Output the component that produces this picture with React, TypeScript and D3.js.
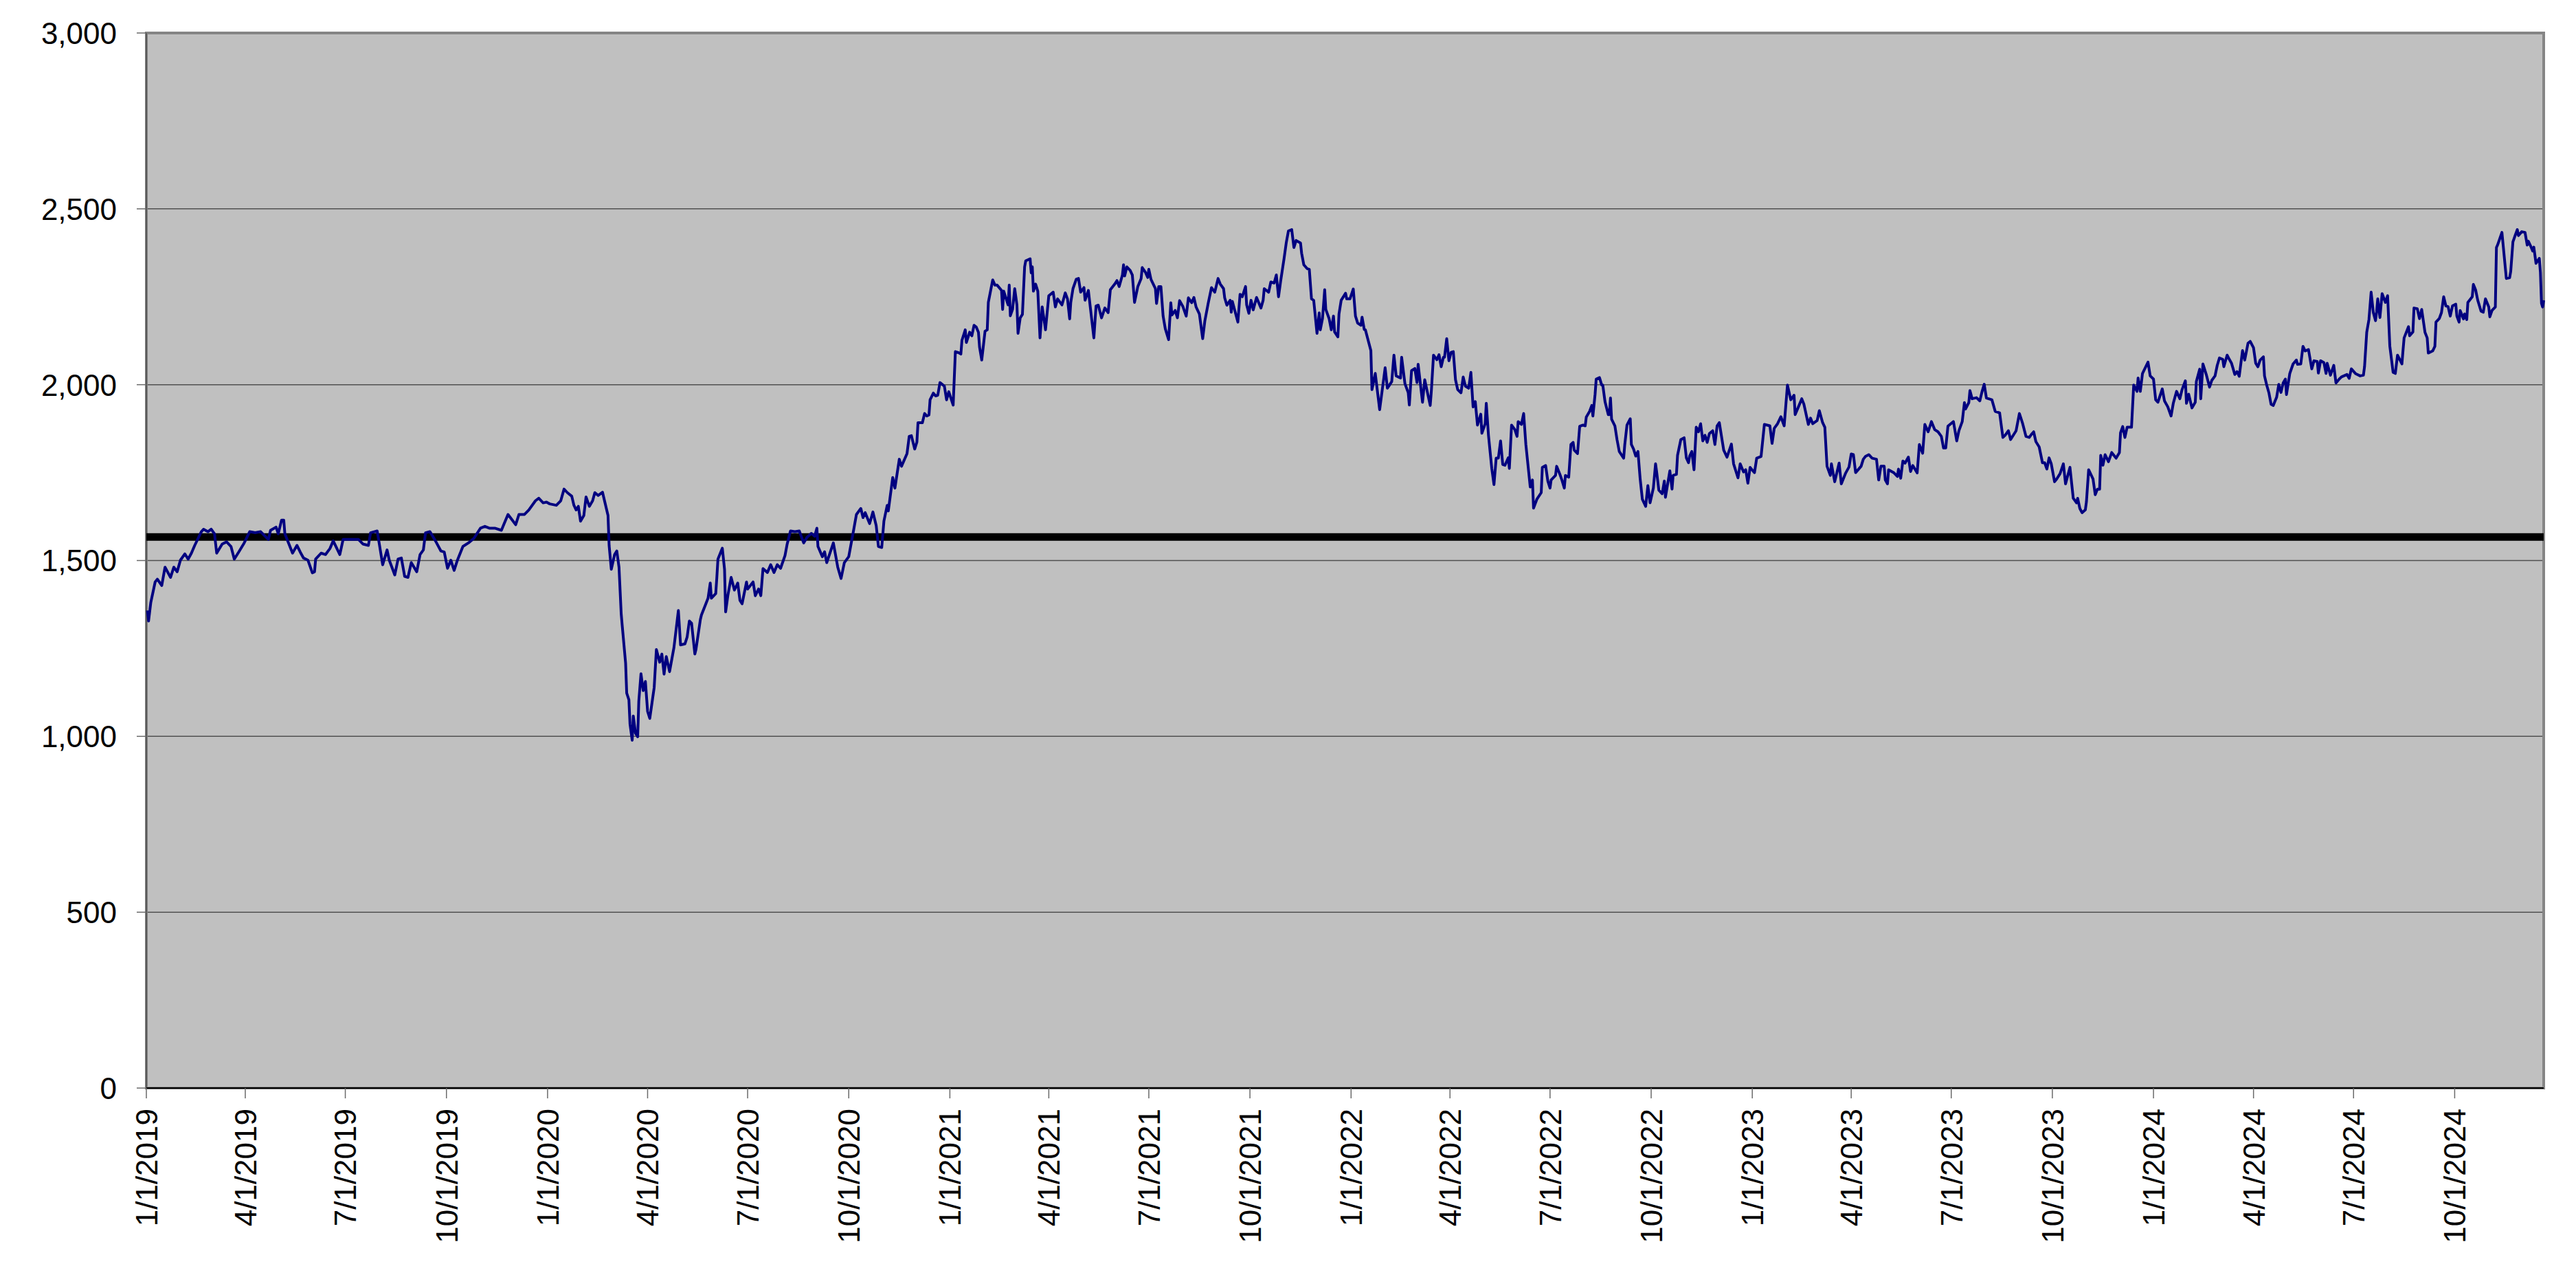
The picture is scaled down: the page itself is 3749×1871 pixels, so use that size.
import { useEffect, useRef } from 'react';
import * as d3 from 'd3';

const WIDTH = 3749;
const HEIGHT = 1871;

// daily index level
const series2019: [string, number][] = [
  ['2019-01-02', 1358], ['2019-01-03', 1328], ['2019-01-05', 1380], ['2019-01-09', 1439], ['2019-01-11', 1447],
  ['2019-01-15', 1429], ['2019-01-18', 1481], ['2019-01-23', 1452], ['2019-01-26', 1481], ['2019-01-29', 1468],
  ['2019-02-01', 1501], ['2019-02-05', 1519], ['2019-02-08', 1504], ['2019-02-11', 1521], ['2019-02-14', 1543],
  ['2019-02-20', 1582], ['2019-02-22', 1589], ['2019-02-26', 1582], ['2019-03-01', 1589], ['2019-03-04', 1576],
  ['2019-03-06', 1521], ['2019-03-11', 1547], ['2019-03-15', 1553], ['2019-03-19', 1540], ['2019-03-22', 1504],
  ['2019-03-26', 1524], ['2019-03-31', 1550], ['2019-04-05', 1582], ['2019-04-10', 1579], ['2019-04-15', 1582],
  ['2019-04-22', 1560], ['2019-04-24', 1586], ['2019-04-29', 1595], ['2019-05-01', 1576], ['2019-05-04', 1615],
  ['2019-05-06', 1615], ['2019-05-07', 1576], ['2019-05-14', 1521], ['2019-05-18', 1543], ['2019-05-21', 1524],
  ['2019-05-24', 1507], ['2019-05-28', 1501], ['2019-06-01', 1465], ['2019-06-03', 1468], ['2019-06-04', 1504],
  ['2019-06-09', 1521], ['2019-06-13', 1517], ['2019-06-17', 1534], ['2019-06-20', 1556], ['2019-06-26', 1517],
  ['2019-06-29', 1560], ['2019-07-06', 1560], ['2019-07-13', 1560], ['2019-07-17', 1547], ['2019-07-22', 1543],
  ['2019-07-24', 1579], ['2019-07-30', 1584], ['2019-08-04', 1488], ['2019-08-08', 1530], ['2019-08-10', 1501],
  ['2019-08-15', 1459], ['2019-08-18', 1504], ['2019-08-21', 1507], ['2019-08-24', 1455], ['2019-08-27', 1452],
  ['2019-08-30', 1494], ['2019-09-04', 1468], ['2019-09-07', 1517], ['2019-09-10', 1530], ['2019-09-12', 1579],
  ['2019-09-16', 1582], ['2019-09-21', 1556], ['2019-09-26', 1527], ['2019-09-29', 1524], ['2019-10-02', 1478],
  ['2019-10-05', 1501], ['2019-10-08', 1472], ['2019-10-11', 1501], ['2019-10-16', 1540], ['2019-10-21', 1550],
  ['2019-10-26', 1563], ['2019-11-01', 1592], ['2019-11-05', 1597], ['2019-11-09', 1592], ['2019-11-14', 1592],
  ['2019-11-20', 1586], ['2019-11-26', 1631], ['2019-12-03', 1602], ['2019-12-06', 1631], ['2019-12-11', 1631],
  ['2019-12-15', 1644], ['2019-12-21', 1670], ['2019-12-24', 1677], ['2019-12-28', 1664], ['2019-12-31', 1666],
];

const series2020: [string, number][] = [
  ['2020-01-03', 1661], ['2020-01-09', 1657], ['2020-01-13', 1670], ['2020-01-16', 1703], ['2020-01-19', 1693],
  ['2020-01-23', 1683], ['2020-01-25', 1657], ['2020-01-27', 1644], ['2020-01-29', 1654], ['2020-01-31', 1612],
  ['2020-02-03', 1628], ['2020-02-05', 1681], ['2020-02-08', 1654], ['2020-02-11', 1670], ['2020-02-13', 1693],
  ['2020-02-16', 1685], ['2020-02-20', 1694], ['2020-02-25', 1628], ['2020-02-26', 1543], ['2020-02-28', 1475],
  ['2020-03-02', 1517], ['2020-03-04', 1527], ['2020-03-06', 1481], ['2020-03-08', 1348], ['2020-03-09', 1312],
  ['2020-03-12', 1208], ['2020-03-13', 1123], ['2020-03-15', 1104], ['2020-03-16', 1035], ['2020-03-18', 989],
  ['2020-03-19', 1058], ['2020-03-21', 1009], ['2020-03-23', 999], ['2020-03-24', 1100], ['2020-03-26', 1178],
  ['2020-03-28', 1130], ['2020-03-30', 1156], ['2020-04-01', 1071], ['2020-04-03', 1051], ['2020-04-07', 1139],
  ['2020-04-09', 1247], ['2020-04-12', 1211], ['2020-04-14', 1234], ['2020-04-16', 1177], ['2020-04-18', 1227],
  ['2020-04-21', 1184], ['2020-04-25', 1253], ['2020-04-29', 1358], ['2020-05-01', 1260], ['2020-05-05', 1263],
  ['2020-05-07', 1283], ['2020-05-09', 1328], ['2020-05-11', 1322], ['2020-05-14', 1234], ['2020-05-15', 1247],
  ['2020-05-19', 1332], ['2020-05-20', 1345], ['2020-05-24', 1377], ['2020-05-26', 1393], ['2020-05-28', 1436],
  ['2020-05-29', 1393], ['2020-06-02', 1406], ['2020-06-03', 1452], ['2020-06-04', 1504], ['2020-06-08', 1535],
  ['2020-06-10', 1475], ['2020-06-11', 1354], ['2020-06-13', 1400], ['2020-06-16', 1452], ['2020-06-19', 1416],
  ['2020-06-22', 1436], ['2020-06-24', 1387], ['2020-06-26', 1377], ['2020-06-30', 1439], ['2020-07-01', 1419],
  ['2020-07-06', 1439], ['2020-07-08', 1400], ['2020-07-11', 1419], ['2020-07-13', 1400], ['2020-07-15', 1477],
  ['2020-07-19', 1466], ['2020-07-22', 1488], ['2020-07-25', 1466], ['2020-07-28', 1488], ['2020-07-31', 1478],
  ['2020-08-04', 1514], ['2020-08-06', 1547], ['2020-08-09', 1584], ['2020-08-13', 1582], ['2020-08-17', 1584],
  ['2020-08-21', 1550], ['2020-08-24', 1566], ['2020-08-28', 1577], ['2020-08-31', 1569], ['2020-09-02', 1592],
  ['2020-09-03', 1540], ['2020-09-07', 1511], ['2020-09-09', 1525], ['2020-09-11', 1494], ['2020-09-17', 1550],
  ['2020-09-21', 1481], ['2020-09-24', 1449], ['2020-09-27', 1494], ['2020-10-01', 1511], ['2020-10-05', 1579],
  ['2020-10-08', 1631], ['2020-10-12', 1648], ['2020-10-14', 1622], ['2020-10-16', 1636], ['2020-10-20', 1605],
  ['2020-10-23', 1638], ['2020-10-26', 1599], ['2020-10-28', 1540], ['2020-10-31', 1537], ['2020-11-02', 1612],
  ['2020-11-05', 1657], ['2020-11-06', 1641], ['2020-11-10', 1736], ['2020-11-12', 1706], ['2020-11-16', 1788],
  ['2020-11-18', 1768], ['2020-11-23', 1804], ['2020-11-25', 1853], ['2020-11-27', 1855], ['2020-11-30', 1817],
  ['2020-12-02', 1837], ['2020-12-03', 1892], ['2020-12-07', 1892], ['2020-12-09', 1918], ['2020-12-11', 1911],
  ['2020-12-13', 1914], ['2020-12-14', 1957], ['2020-12-17', 1976], ['2020-12-19', 1968], ['2020-12-21', 1970],
  ['2020-12-23', 2006], ['2020-12-27', 1996], ['2020-12-29', 1957], ['2020-12-31', 1980],
];

const series2021: [string, number][] = [
  ['2021-01-04', 1942], ['2021-01-06', 2094], ['2021-01-09', 2091], ['2021-01-11', 2087], ['2021-01-12', 2126],
  ['2021-01-15', 2156], ['2021-01-16', 2120], ['2021-01-19', 2149], ['2021-01-21', 2139], ['2021-01-23', 2169],
  ['2021-01-25', 2164], ['2021-01-27', 2149], ['2021-01-28', 2107], ['2021-01-30', 2070], ['2021-02-02', 2152],
  ['2021-02-04', 2156], ['2021-02-05', 2234], ['2021-02-09', 2298], ['2021-02-11', 2283], ['2021-02-13', 2283],
  ['2021-02-17', 2268], ['2021-02-18', 2214], ['2021-02-19', 2266], ['2021-02-23', 2227], ['2021-02-24', 2283],
  ['2021-02-25', 2196], ['2021-02-27', 2214], ['2021-03-01', 2273], ['2021-03-03', 2227], ['2021-03-04', 2146],
  ['2021-03-06', 2190], ['2021-03-08', 2200], ['2021-03-10', 2335], ['2021-03-11', 2352], ['2021-03-15', 2358],
  ['2021-03-16', 2318], ['2021-03-17', 2335], ['2021-03-18', 2266], ['2021-03-20', 2286], ['2021-03-22', 2266],
  ['2021-03-24', 2133], ['2021-03-26', 2221], ['2021-03-29', 2156], ['2021-04-01', 2253], ['2021-04-05', 2263],
  ['2021-04-07', 2221], ['2021-04-09', 2244], ['2021-04-13', 2227], ['2021-04-16', 2261], ['2021-04-18', 2244],
  ['2021-04-20', 2187], ['2021-04-21', 2234], ['2021-04-23', 2273], ['2021-04-26', 2300], ['2021-04-28', 2302],
  ['2021-04-30', 2263], ['2021-05-03', 2276], ['2021-05-04', 2240], ['2021-05-07', 2268], ['2021-05-09', 2214],
  ['2021-05-12', 2133], ['2021-05-14', 2224], ['2021-05-16', 2226], ['2021-05-19', 2190], ['2021-05-22', 2218],
  ['2021-05-25', 2205], ['2021-05-27', 2270], ['2021-05-31', 2286], ['2021-06-02', 2296], ['2021-06-04', 2279],
  ['2021-06-07', 2312], ['2021-06-08', 2341], ['2021-06-09', 2309], ['2021-06-11', 2335], ['2021-06-14', 2325],
  ['2021-06-16', 2312], ['2021-06-18', 2234], ['2021-06-21', 2279], ['2021-06-24', 2302], ['2021-06-25', 2333],
  ['2021-06-28', 2319], ['2021-06-30', 2305], ['2021-07-01', 2328], ['2021-07-03', 2299], ['2021-07-07', 2273],
  ['2021-07-08', 2231], ['2021-07-10', 2279], ['2021-07-12', 2279], ['2021-07-14', 2195], ['2021-07-16', 2159],
  ['2021-07-19', 2128], ['2021-07-21', 2233], ['2021-07-22', 2198], ['2021-07-25', 2211], ['2021-07-27', 2190],
  ['2021-07-29', 2239], ['2021-08-01', 2222], ['2021-08-04', 2195], ['2021-08-06', 2247], ['2021-08-09', 2233],
  ['2021-08-11', 2248], ['2021-08-13', 2221], ['2021-08-16', 2201], ['2021-08-19', 2131], ['2021-08-21', 2182],
  ['2021-08-24', 2231], ['2021-08-27', 2276], ['2021-08-30', 2263], ['2021-09-02', 2302], ['2021-09-04', 2286],
  ['2021-09-07', 2273], ['2021-09-08', 2247], ['2021-09-10', 2226], ['2021-09-13', 2240], ['2021-09-14', 2206],
  ['2021-09-15', 2237], ['2021-09-20', 2178], ['2021-09-22', 2257], ['2021-09-24', 2250], ['2021-09-27', 2279],
  ['2021-09-28', 2227], ['2021-09-30', 2203], ['2021-10-02', 2240], ['2021-10-04', 2213], ['2021-10-07', 2248],
  ['2021-10-11', 2218], ['2021-10-13', 2240], ['2021-10-14', 2273], ['2021-10-18', 2263], ['2021-10-20', 2292],
  ['2021-10-23', 2289], ['2021-10-25', 2312], ['2021-10-27', 2250], ['2021-10-29', 2296], ['2021-11-01', 2358],
  ['2021-11-03', 2403], ['2021-11-05', 2437], ['2021-11-08', 2441], ['2021-11-10', 2390], ['2021-11-12', 2410],
  ['2021-11-16', 2403], ['2021-11-17', 2374], ['2021-11-19', 2341], ['2021-11-22', 2330], ['2021-11-24', 2328],
  ['2021-11-26', 2244], ['2021-11-28', 2240], ['2021-12-01', 2146], ['2021-12-03', 2204], ['2021-12-04', 2156],
  ['2021-12-06', 2188], ['2021-12-08', 2270], ['2021-12-09', 2214], ['2021-12-12', 2188], ['2021-12-14', 2156],
  ['2021-12-16', 2195], ['2021-12-17', 2150], ['2021-12-20', 2136], ['2021-12-21', 2201], ['2021-12-23', 2240],
  ['2021-12-27', 2260], ['2021-12-28', 2244], ['2021-12-31', 2244],
];

const series2022: [string, number][] = [
  ['2022-01-03', 2272], ['2022-01-05', 2195], ['2022-01-07', 2175], ['2022-01-10', 2169], ['2022-01-11', 2192],
  ['2022-01-13', 2157], ['2022-01-14', 2156], ['2022-01-19', 2097], ['2022-01-20', 1986], ['2022-01-23', 2032],
  ['2022-01-27', 1929], ['2022-02-01', 2048], ['2022-02-03', 1990], ['2022-02-07', 2009], ['2022-02-09', 2084],
  ['2022-02-11', 2025], ['2022-02-15', 2019], ['2022-02-16', 2078], ['2022-02-19', 2003], ['2022-02-22', 1977],
  ['2022-02-23', 1942], ['2022-02-25', 2040], ['2022-02-28', 2046], ['2022-03-02', 2006], ['2022-03-03', 2058],
  ['2022-03-07', 1950], ['2022-03-09', 2014], ['2022-03-14', 1941], ['2022-03-15', 1980], ['2022-03-17', 2084],
  ['2022-03-20', 2071], ['2022-03-22', 2085], ['2022-03-24', 2051], ['2022-03-26', 2078], ['2022-03-27', 2078],
  ['2022-03-29', 2131], ['2022-03-31', 2068], ['2022-04-02', 2092], ['2022-04-04', 2094], ['2022-04-06', 2014],
  ['2022-04-08', 1986], ['2022-04-11', 1977], ['2022-04-13', 2022], ['2022-04-15', 1996], ['2022-04-18', 1990],
  ['2022-04-20', 2035], ['2022-04-22', 1937], ['2022-04-24', 1952], ['2022-04-26', 1885], ['2022-04-29', 1916],
  ['2022-04-30', 1862], ['2022-05-03', 1889], ['2022-05-04', 1947], ['2022-05-06', 1856], ['2022-05-09', 1762],
  ['2022-05-11', 1716], ['2022-05-13', 1791], ['2022-05-15', 1791], ['2022-05-17', 1840], ['2022-05-19', 1773],
  ['2022-05-21', 1771], ['2022-05-24', 1792], ['2022-05-25', 1762], ['2022-05-27', 1885], ['2022-05-30', 1872],
  ['2022-06-01', 1853], ['2022-06-02', 1895], ['2022-06-05', 1887], ['2022-06-07', 1918], ['2022-06-09', 1830],
  ['2022-06-13', 1709], ['2022-06-15', 1729], ['2022-06-16', 1649], ['2022-06-19', 1674], ['2022-06-23', 1693],
  ['2022-06-24', 1765], ['2022-06-27', 1770], ['2022-06-29', 1726], ['2022-07-01', 1706], ['2022-07-02', 1729],
  ['2022-07-06', 1742], ['2022-07-07', 1768], ['2022-07-10', 1745], ['2022-07-12', 1727], ['2022-07-14', 1706],
  ['2022-07-15', 1742], ['2022-07-18', 1737], ['2022-07-20', 1830], ['2022-07-22', 1836], ['2022-07-23', 1814],
  ['2022-07-26', 1804], ['2022-07-28', 1882], ['2022-07-31', 1885], ['2022-08-02', 1883], ['2022-08-03', 1908],
  ['2022-08-06', 1924], ['2022-08-08', 1941], ['2022-08-09', 1911], ['2022-08-11', 1973], ['2022-08-12', 2016],
  ['2022-08-15', 2020], ['2022-08-17', 1999], ['2022-08-18', 1999], ['2022-08-20', 1952], ['2022-08-23', 1915],
  ['2022-08-24', 1915], ['2022-08-25', 1962], ['2022-08-26', 1902], ['2022-08-29', 1883], ['2022-08-31', 1843],
  ['2022-09-02', 1810], ['2022-09-06', 1791], ['2022-09-07', 1830], ['2022-09-09', 1885], ['2022-09-12', 1903],
  ['2022-09-13', 1830], ['2022-09-15', 1817], ['2022-09-17', 1797], ['2022-09-19', 1810], ['2022-09-21', 1732],
  ['2022-09-23', 1674], ['2022-09-26', 1654], ['2022-09-28', 1713], ['2022-09-30', 1664], ['2022-10-03', 1706],
  ['2022-10-05', 1775], ['2022-10-06', 1752], ['2022-10-08', 1700], ['2022-10-11', 1690], ['2022-10-13', 1726],
  ['2022-10-14', 1680], ['2022-10-18', 1755], ['2022-10-20', 1703], ['2022-10-21', 1742], ['2022-10-24', 1745],
  ['2022-10-25', 1799], ['2022-10-28', 1844], ['2022-10-31', 1849], ['2022-11-02', 1792], ['2022-11-04', 1778],
  ['2022-11-05', 1797], ['2022-11-07', 1810], ['2022-11-09', 1758], ['2022-11-11', 1879], ['2022-11-13', 1866],
  ['2022-11-15', 1889], ['2022-11-17', 1840], ['2022-11-19', 1856], ['2022-11-21', 1836], ['2022-11-23', 1861],
  ['2022-11-26', 1869], ['2022-11-28', 1830], ['2022-11-30', 1883], ['2022-12-02', 1892], ['2022-12-06', 1814],
  ['2022-12-09', 1794], ['2022-12-13', 1831], ['2022-12-15', 1775], ['2022-12-19', 1735], ['2022-12-21', 1775],
  ['2022-12-24', 1752], ['2022-12-26', 1758], ['2022-12-28', 1720], ['2022-12-30', 1765],
];

const series2023: [string, number][] = [
  ['2023-01-01', 1757], ['2023-01-03', 1750], ['2023-01-05', 1791], ['2023-01-09', 1796], ['2023-01-12', 1887],
  ['2023-01-17', 1883], ['2023-01-19', 1833], ['2023-01-21', 1876], ['2023-01-24', 1889], ['2023-01-27', 1909],
  ['2023-01-30', 1883], ['2023-02-02', 1999], ['2023-02-05', 1957], ['2023-02-08', 1970], ['2023-02-09', 1915],
  ['2023-02-12', 1937], ['2023-02-15', 1960], ['2023-02-17', 1944], ['2023-02-21', 1887], ['2023-02-23', 1905],
  ['2023-02-25', 1889], ['2023-03-01', 1898], ['2023-03-03', 1926], ['2023-03-06', 1892], ['2023-03-08', 1879],
  ['2023-03-10', 1768], ['2023-03-13', 1742], ['2023-03-14', 1775], ['2023-03-17', 1724], ['2023-03-21', 1777],
  ['2023-03-23', 1718], ['2023-03-27', 1749], ['2023-03-30', 1766], ['2023-04-01', 1803], ['2023-04-03', 1801],
  ['2023-04-05', 1750], ['2023-04-10', 1768], ['2023-04-12', 1788], ['2023-04-14', 1796], ['2023-04-17', 1801],
  ['2023-04-20', 1791], ['2023-04-24', 1788], ['2023-04-26', 1729], ['2023-04-28', 1768], ['2023-05-01', 1768],
  ['2023-05-02', 1729], ['2023-05-04', 1718], ['2023-05-05', 1758], ['2023-05-10', 1749], ['2023-05-13', 1739],
  ['2023-05-14', 1760], ['2023-05-16', 1734], ['2023-05-18', 1783], ['2023-05-20', 1777], ['2023-05-23', 1794],
  ['2023-05-25', 1753], ['2023-05-27', 1770], ['2023-05-31', 1749], ['2023-06-02', 1830], ['2023-06-05', 1805],
  ['2023-06-07', 1887], ['2023-06-10', 1866], ['2023-06-13', 1895], ['2023-06-16', 1872], ['2023-06-19', 1866],
  ['2023-06-22', 1853], ['2023-06-24', 1820], ['2023-06-26', 1820], ['2023-06-28', 1882], ['2023-07-01', 1890],
  ['2023-07-03', 1895], ['2023-07-06', 1840], ['2023-07-08', 1869], ['2023-07-11', 1895], ['2023-07-13', 1949],
  ['2023-07-14', 1931], ['2023-07-17', 1949], ['2023-07-18', 1983], ['2023-07-20', 1960], ['2023-07-24', 1963],
  ['2023-07-27', 1954], ['2023-07-29', 1980], ['2023-07-31', 2001], ['2023-08-02', 1962], ['2023-08-07', 1957],
  ['2023-08-10', 1924], ['2023-08-14', 1920], ['2023-08-17', 1850], ['2023-08-19', 1856], ['2023-08-22', 1869],
  ['2023-08-24', 1844], ['2023-08-29', 1869], ['2023-09-01', 1918], ['2023-09-04', 1889], ['2023-09-07', 1853],
  ['2023-09-10', 1850], ['2023-09-12', 1859], ['2023-09-14', 1866], ['2023-09-16', 1838], ['2023-09-19', 1823],
  ['2023-09-22', 1778], ['2023-09-24', 1778], ['2023-09-26', 1760], ['2023-09-28', 1792], ['2023-09-30', 1775],
  ['2023-10-03', 1724], ['2023-10-05', 1732], ['2023-10-08', 1747], ['2023-10-11', 1775], ['2023-10-13', 1718],
  ['2023-10-17', 1765], ['2023-10-20', 1677], ['2023-10-23', 1664], ['2023-10-24', 1677], ['2023-10-26', 1648],
  ['2023-10-28', 1636], ['2023-10-31', 1644], ['2023-11-01', 1667], ['2023-11-03', 1758], ['2023-11-07', 1732],
  ['2023-11-09', 1687], ['2023-11-11', 1703], ['2023-11-13', 1703], ['2023-11-14', 1799], ['2023-11-16', 1771],
  ['2023-11-18', 1801], ['2023-11-21', 1781], ['2023-11-24', 1807], ['2023-11-28', 1791], ['2023-12-01', 1807],
  ['2023-12-02', 1863], ['2023-12-04', 1881], ['2023-12-06', 1850], ['2023-12-08', 1879], ['2023-12-12', 1879],
  ['2023-12-14', 1999], ['2023-12-17', 1981], ['2023-12-18', 2019], ['2023-12-20', 1981], ['2023-12-22', 2032],
  ['2023-12-27', 2064], ['2023-12-29', 2025],
];

const series2024: [string, number][] = [
  ['2024-01-01', 2016], ['2024-01-03', 1957], ['2024-01-05', 1950], ['2024-01-09', 1988], ['2024-01-11', 1954],
  ['2024-01-14', 1937], ['2024-01-17', 1911], ['2024-01-19', 1947], ['2024-01-22', 1981], ['2024-01-25', 1960],
  ['2024-01-27', 1986], ['2024-01-30', 2011], ['2024-01-31', 1947], ['2024-02-02', 1973], ['2024-02-05', 1934],
  ['2024-02-08', 1950], ['2024-02-09', 2009], ['2024-02-12', 2044], ['2024-02-13', 1960], ['2024-02-15', 2059],
  ['2024-02-18', 2029], ['2024-02-21', 1993], ['2024-02-23', 2012], ['2024-02-26', 2025], ['2024-02-28', 2055],
  ['2024-03-01', 2076], ['2024-03-04', 2072], ['2024-03-05', 2051], ['2024-03-08', 2084], ['2024-03-10', 2072],
  ['2024-03-12', 2061], ['2024-03-15', 2029], ['2024-03-17', 2037], ['2024-03-19', 2024], ['2024-03-22', 2097],
  ['2024-03-24', 2070], ['2024-03-27', 2118], ['2024-03-29', 2123], ['2024-04-01', 2105], ['2024-04-03', 2061],
  ['2024-04-05', 2051], ['2024-04-07', 2070], ['2024-04-10', 2079], ['2024-04-11', 2025], ['2024-04-13', 1999],
  ['2024-04-15', 1977], ['2024-04-17', 1944], ['2024-04-19', 1941], ['2024-04-22', 1964], ['2024-04-24', 2001],
  ['2024-04-26', 1978], ['2024-04-28', 2005], ['2024-04-30', 2016], ['2024-05-01', 1972], ['2024-05-04', 2032],
  ['2024-05-07', 2059], ['2024-05-10', 2070], ['2024-05-11', 2058], ['2024-05-14', 2059], ['2024-05-16', 2109],
  ['2024-05-18', 2096], ['2024-05-21', 2100], ['2024-05-24', 2045], ['2024-05-26', 2068], ['2024-05-29', 2066],
  ['2024-05-30', 2033], ['2024-06-01', 2068], ['2024-06-04', 2063], ['2024-06-06', 2032], ['2024-06-07', 2061],
  ['2024-06-10', 2027], ['2024-06-13', 2055], ['2024-06-15', 2005], ['2024-06-18', 2016], ['2024-06-20', 2022],
  ['2024-06-25', 2029], ['2024-06-27', 2018], ['2024-06-29', 2045], ['2024-07-03', 2031], ['2024-07-07', 2025],
  ['2024-07-10', 2027], ['2024-07-11', 2051], ['2024-07-13', 2149], ['2024-07-15', 2185], ['2024-07-17', 2263],
  ['2024-07-19', 2205], ['2024-07-21', 2182], ['2024-07-22', 2208], ['2024-07-23', 2244], ['2024-07-25', 2191],
  ['2024-07-27', 2259], ['2024-07-30', 2234], ['2024-08-01', 2253], ['2024-08-03', 2110], ['2024-08-06', 2035],
  ['2024-08-08', 2032], ['2024-08-10', 2084], ['2024-08-14', 2059], ['2024-08-15', 2097], ['2024-08-16', 2133],
  ['2024-08-20', 2165], ['2024-08-21', 2139], ['2024-08-24', 2150], ['2024-08-25', 2218], ['2024-08-28', 2216],
  ['2024-08-30', 2188], ['2024-09-01', 2214], ['2024-09-04', 2149], ['2024-09-06', 2133], ['2024-09-07', 2090],
  ['2024-09-11', 2096], ['2024-09-13', 2109], ['2024-09-14', 2178], ['2024-09-17', 2188], ['2024-09-19', 2205],
  ['2024-09-21', 2250], ['2024-09-23', 2224], ['2024-09-25', 2222], ['2024-09-27', 2195], ['2024-09-29', 2224],
  ['2024-10-02', 2229], ['2024-10-03', 2195], ['2024-10-05', 2178], ['2024-10-06', 2211], ['2024-10-09', 2187],
  ['2024-10-10', 2201], ['2024-10-12', 2185], ['2024-10-13', 2234], ['2024-10-17', 2250], ['2024-10-18', 2285],
  ['2024-10-20', 2270], ['2024-10-22', 2240], ['2024-10-25', 2209], ['2024-10-27', 2206], ['2024-10-29', 2244],
  ['2024-11-01', 2221], ['2024-11-02', 2193], ['2024-11-04', 2211], ['2024-11-07', 2221], ['2024-11-08', 2390],
  ['2024-11-09', 2397], ['2024-11-13', 2433], ['2024-11-17', 2302], ['2024-11-20', 2304], ['2024-11-21', 2322],
  ['2024-11-23', 2406], ['2024-11-25', 2424], ['2024-11-27', 2441], ['2024-11-28', 2424], ['2024-12-01', 2435],
  ['2024-12-04', 2433], ['2024-12-06', 2397], ['2024-12-07', 2408], ['2024-12-09', 2395], ['2024-12-11', 2380],
  ['2024-12-12', 2391], ['2024-12-14', 2345], ['2024-12-17', 2359], ['2024-12-18', 2319], ['2024-12-19', 2231],
  ['2024-12-20', 2221], ['2024-12-21', 2240],
];

// long-run average drawn as the heavy black rule
const averageLevel = 1567;

const xDomain: [string, string] = ['2019-01-01', '2024-12-21'];
const yTicks = [0, 500, 1000, 1500, 2000, 2500, 3000];

export default function App() {
  const svgRef = useRef<SVGSVGElement>(null);

  useEffect(() => {
    document.body.style.margin = '0';
    if (!svgRef.current) return;

    const svg = d3.select(svgRef.current);
    svg.selectAll('*').remove();

    const parse = d3.timeParse('%Y-%m-%d');
    const data = [...series2019, ...series2020, ...series2021, ...series2022, ...series2023, ...series2024]
      .map(([d, v]) => ({ date: parse(d) as Date, value: v }));

    const left = 213;
    const right = 3702;
    const top = 48;
    const bottom = 1583;
    const font = '"Liberation Sans", Arial, sans-serif';

    const x = d3.scaleTime()
      .domain(xDomain.map(d => parse(d) as Date))
      .range([left, right]);

    const y = d3.scaleLinear()
      .domain([0, 3000])
      .range([bottom, top]);

    svg.append('rect')
      .attr('width', WIDTH)
      .attr('height', HEIGHT)
      .attr('fill', '#FFFFFF');

    // plot area
    svg.append('rect')
      .attr('x', left)
      .attr('y', top)
      .attr('width', right - left)
      .attr('height', bottom - top)
      .attr('fill', '#C0C0C0');

    // gridlines
    svg.append('g')
      .selectAll('line')
      .data(yTicks.slice(1, -1))
      .enter()
      .append('line')
      .attr('x1', left)
      .attr('x2', right)
      .attr('y1', d => y(d))
      .attr('y2', d => y(d))
      .attr('stroke', '#505050')
      .attr('stroke-width', 1.5);

    // frame
    svg.append('rect')
      .attr('x', left)
      .attr('y', top)
      .attr('width', right - left)
      .attr('height', bottom - top)
      .attr('fill', 'none')
      .attr('stroke', '#858585')
      .attr('stroke-width', 4);

    // y axis
    const yAxis = svg.append('g');
    yAxis.append('line')
      .attr('x1', left).attr('x2', left)
      .attr('y1', top).attr('y2', bottom)
      .attr('stroke', '#5a5a5a')
      .attr('stroke-width', 2);

    yTicks.forEach(t => {
      yAxis.append('line')
        .attr('x1', left - 14).attr('x2', left)
        .attr('y1', y(t)).attr('y2', y(t))
        .attr('stroke', '#6a6a6a')
        .attr('stroke-width', 1.5);
      yAxis.append('text')
        .attr('x', 170)
        .attr('y', y(t))
        .attr('dy', '0.36em')
        .attr('text-anchor', 'end')
        .attr('font-family', font)
        .attr('font-size', 44)
        .attr('fill', '#000000')
        .text(d3.format(',')(t));
    });

    // x axis
    const xAxis = svg.append('g');
    xAxis.append('line')
      .attr('x1', left).attr('x2', right)
      .attr('y1', bottom).attr('y2', bottom)
      .attr('stroke', '#000000')
      .attr('stroke-width', 2);

    const fmt = d3.timeFormat('%-m/%-d/%Y');
    x.ticks(d3.timeMonth.every(3) as d3.TimeInterval).forEach(t => {
      const px = x(t);
      xAxis.append('line')
        .attr('x1', px).attr('x2', px)
        .attr('y1', bottom).attr('y2', bottom + 15)
        .attr('stroke', '#6a6a6a')
        .attr('stroke-width', 1.5);
      xAxis.append('text')
        .attr('transform', `translate(${px}, ${bottom + 30}) rotate(-90)`)
        .attr('dy', '0.36em')
        .attr('text-anchor', 'end')
        .attr('font-family', font)
        .attr('font-size', 44)
        .attr('fill', '#000000')
        .text(fmt(t));
    });

    // average rule
    svg.append('line')
      .attr('x1', left)
      .attr('x2', right)
      .attr('y1', y(averageLevel))
      .attr('y2', y(averageLevel))
      .attr('stroke', '#000000')
      .attr('stroke-width', 11);

    // series
    const line = d3.line<{ date: Date; value: number }>()
      .x(d => x(d.date))
      .y(d => y(d.value));

    svg.append('path')
      .datum(data)
      .attr('d', line)
      .attr('fill', 'none')
      .attr('stroke', '#000080')
      .attr('stroke-width', 4)
      .attr('stroke-linejoin', 'round');
  }, []);

  return (
    <svg
      ref={svgRef}
      width={WIDTH}
      height={HEIGHT}
      style={{ display: 'block', position: 'absolute', left: 0, top: 0 }}
    />
  );
}
